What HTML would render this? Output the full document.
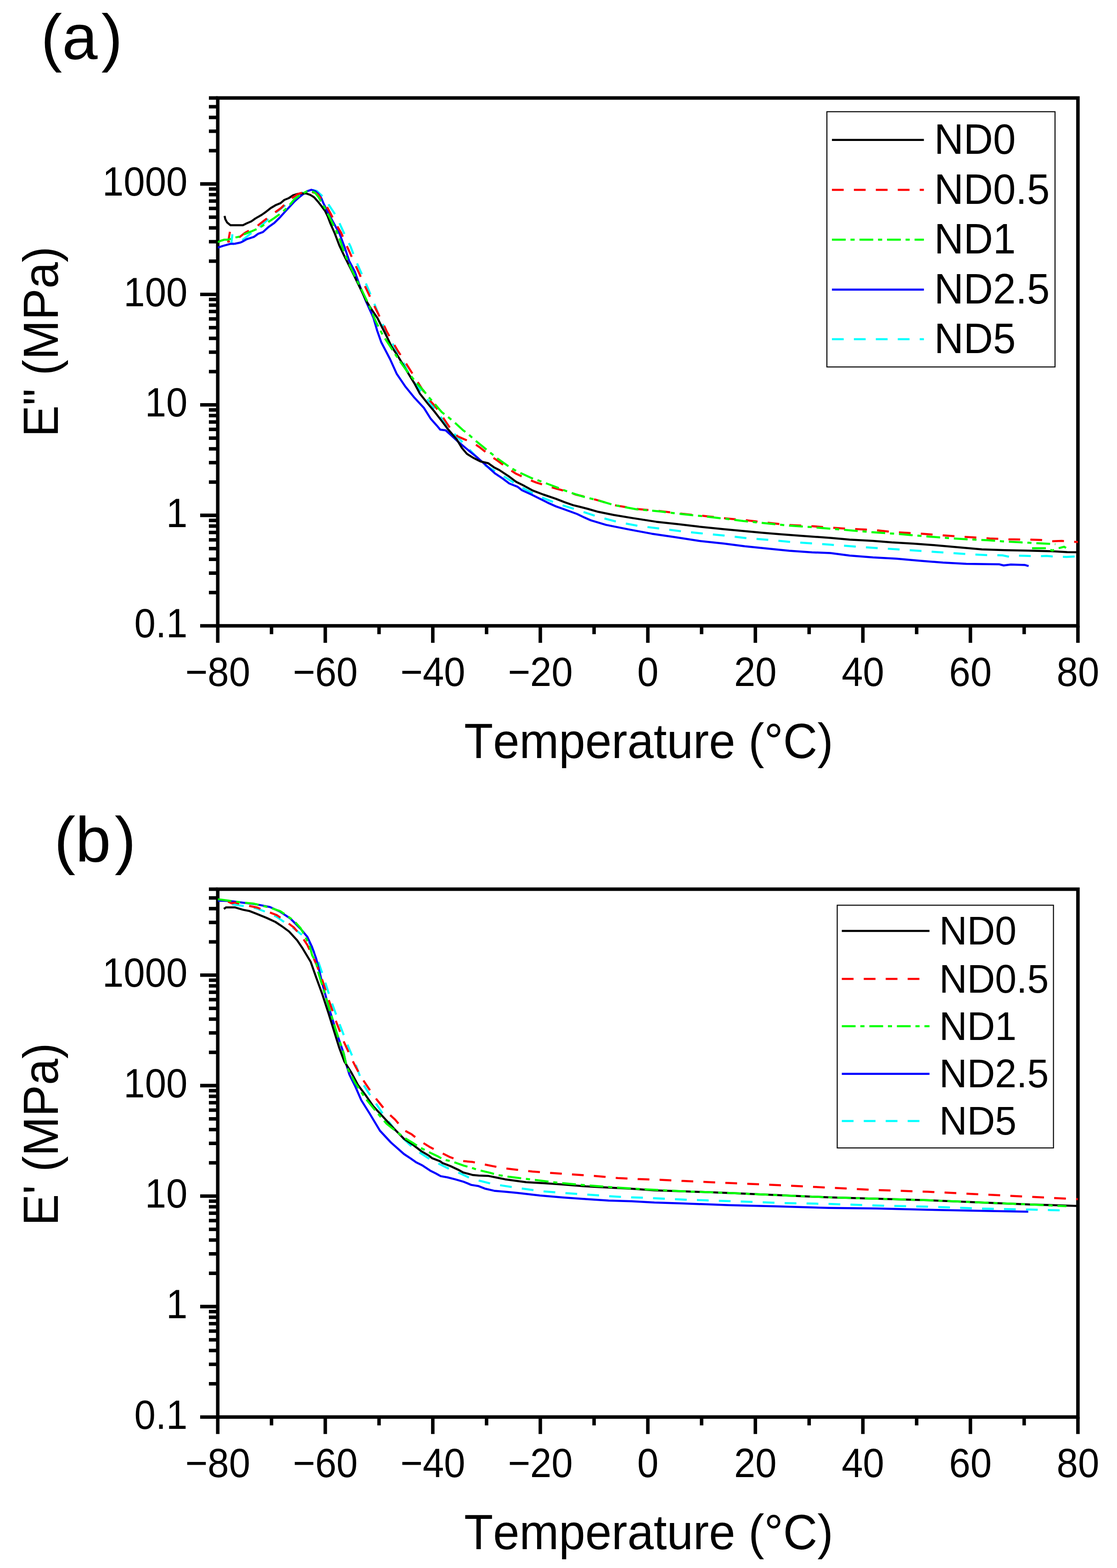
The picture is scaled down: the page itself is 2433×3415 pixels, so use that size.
<!DOCTYPE html>
<html><head><meta charset="utf-8"><title>DMA plots</title>
<style>html,body{margin:0;padding:0;background:#fff;overflow:hidden;width:2433px;height:3415px;} svg{display:block;} text{font-family:"Liberation Sans", Arial, sans-serif;fill:#000;font-kerning:none;}</style>
</head><body>
<svg width="2433" height="3415" viewBox="0 0 2433 3415">
<defs>
<clipPath id="clipa"><rect x="474.3" y="213.37680915769533" width="1873.6000000000001" height="1149.6231908423047"/></clipPath>
<clipPath id="clipb"><rect x="474.3" y="1936.5768091576954" width="1873.6000000000001" height="1149.6231908423047"/></clipPath>
</defs>
<rect width="2433" height="3415" fill="#fff"/>
<rect x="474.30" y="213.38" width="1873.60" height="1149.62" fill="none" stroke="#000" stroke-width="7.6"/>
<line x1="436.00" y1="1363.00" x2="474.30" y2="1363.00" stroke="#000" stroke-width="7.6"/>
<line x1="455.00" y1="1290.57" x2="474.30" y2="1290.57" stroke="#000" stroke-width="7.6"/>
<line x1="455.00" y1="1248.20" x2="474.30" y2="1248.20" stroke="#000" stroke-width="7.6"/>
<line x1="455.00" y1="1218.14" x2="474.30" y2="1218.14" stroke="#000" stroke-width="7.6"/>
<line x1="455.00" y1="1194.83" x2="474.30" y2="1194.83" stroke="#000" stroke-width="7.6"/>
<line x1="455.00" y1="1175.78" x2="474.30" y2="1175.78" stroke="#000" stroke-width="7.6"/>
<line x1="455.00" y1="1159.67" x2="474.30" y2="1159.67" stroke="#000" stroke-width="7.6"/>
<line x1="455.00" y1="1145.72" x2="474.30" y2="1145.72" stroke="#000" stroke-width="7.6"/>
<line x1="455.00" y1="1133.41" x2="474.30" y2="1133.41" stroke="#000" stroke-width="7.6"/>
<line x1="436.00" y1="1122.40" x2="474.30" y2="1122.40" stroke="#000" stroke-width="7.6"/>
<line x1="455.00" y1="1049.97" x2="474.30" y2="1049.97" stroke="#000" stroke-width="7.6"/>
<line x1="455.00" y1="1007.60" x2="474.30" y2="1007.60" stroke="#000" stroke-width="7.6"/>
<line x1="455.00" y1="977.54" x2="474.30" y2="977.54" stroke="#000" stroke-width="7.6"/>
<line x1="455.00" y1="954.23" x2="474.30" y2="954.23" stroke="#000" stroke-width="7.6"/>
<line x1="455.00" y1="935.18" x2="474.30" y2="935.18" stroke="#000" stroke-width="7.6"/>
<line x1="455.00" y1="919.07" x2="474.30" y2="919.07" stroke="#000" stroke-width="7.6"/>
<line x1="455.00" y1="905.12" x2="474.30" y2="905.12" stroke="#000" stroke-width="7.6"/>
<line x1="455.00" y1="892.81" x2="474.30" y2="892.81" stroke="#000" stroke-width="7.6"/>
<line x1="436.00" y1="881.80" x2="474.30" y2="881.80" stroke="#000" stroke-width="7.6"/>
<line x1="455.00" y1="809.37" x2="474.30" y2="809.37" stroke="#000" stroke-width="7.6"/>
<line x1="455.00" y1="767.00" x2="474.30" y2="767.00" stroke="#000" stroke-width="7.6"/>
<line x1="455.00" y1="736.94" x2="474.30" y2="736.94" stroke="#000" stroke-width="7.6"/>
<line x1="455.00" y1="713.63" x2="474.30" y2="713.63" stroke="#000" stroke-width="7.6"/>
<line x1="455.00" y1="694.58" x2="474.30" y2="694.58" stroke="#000" stroke-width="7.6"/>
<line x1="455.00" y1="678.47" x2="474.30" y2="678.47" stroke="#000" stroke-width="7.6"/>
<line x1="455.00" y1="664.52" x2="474.30" y2="664.52" stroke="#000" stroke-width="7.6"/>
<line x1="455.00" y1="652.21" x2="474.30" y2="652.21" stroke="#000" stroke-width="7.6"/>
<line x1="436.00" y1="641.20" x2="474.30" y2="641.20" stroke="#000" stroke-width="7.6"/>
<line x1="455.00" y1="568.77" x2="474.30" y2="568.77" stroke="#000" stroke-width="7.6"/>
<line x1="455.00" y1="526.40" x2="474.30" y2="526.40" stroke="#000" stroke-width="7.6"/>
<line x1="455.00" y1="496.34" x2="474.30" y2="496.34" stroke="#000" stroke-width="7.6"/>
<line x1="455.00" y1="473.03" x2="474.30" y2="473.03" stroke="#000" stroke-width="7.6"/>
<line x1="455.00" y1="453.98" x2="474.30" y2="453.98" stroke="#000" stroke-width="7.6"/>
<line x1="455.00" y1="437.87" x2="474.30" y2="437.87" stroke="#000" stroke-width="7.6"/>
<line x1="455.00" y1="423.92" x2="474.30" y2="423.92" stroke="#000" stroke-width="7.6"/>
<line x1="455.00" y1="411.61" x2="474.30" y2="411.61" stroke="#000" stroke-width="7.6"/>
<line x1="436.00" y1="400.60" x2="474.30" y2="400.60" stroke="#000" stroke-width="7.6"/>
<line x1="455.00" y1="328.17" x2="474.30" y2="328.17" stroke="#000" stroke-width="7.6"/>
<line x1="455.00" y1="285.80" x2="474.30" y2="285.80" stroke="#000" stroke-width="7.6"/>
<line x1="455.00" y1="255.74" x2="474.30" y2="255.74" stroke="#000" stroke-width="7.6"/>
<line x1="455.00" y1="232.43" x2="474.30" y2="232.43" stroke="#000" stroke-width="7.6"/>
<line x1="455.00" y1="213.38" x2="474.30" y2="213.38" stroke="#000" stroke-width="7.6"/>
<line x1="474.30" y1="1363.00" x2="474.30" y2="1400.00" stroke="#000" stroke-width="7.6"/>
<line x1="591.40" y1="1363.00" x2="591.40" y2="1381.20" stroke="#000" stroke-width="7.6"/>
<line x1="708.50" y1="1363.00" x2="708.50" y2="1400.00" stroke="#000" stroke-width="7.6"/>
<line x1="825.60" y1="1363.00" x2="825.60" y2="1381.20" stroke="#000" stroke-width="7.6"/>
<line x1="942.70" y1="1363.00" x2="942.70" y2="1400.00" stroke="#000" stroke-width="7.6"/>
<line x1="1059.80" y1="1363.00" x2="1059.80" y2="1381.20" stroke="#000" stroke-width="7.6"/>
<line x1="1176.90" y1="1363.00" x2="1176.90" y2="1400.00" stroke="#000" stroke-width="7.6"/>
<line x1="1294.00" y1="1363.00" x2="1294.00" y2="1381.20" stroke="#000" stroke-width="7.6"/>
<line x1="1411.10" y1="1363.00" x2="1411.10" y2="1400.00" stroke="#000" stroke-width="7.6"/>
<line x1="1528.20" y1="1363.00" x2="1528.20" y2="1381.20" stroke="#000" stroke-width="7.6"/>
<line x1="1645.30" y1="1363.00" x2="1645.30" y2="1400.00" stroke="#000" stroke-width="7.6"/>
<line x1="1762.40" y1="1363.00" x2="1762.40" y2="1381.20" stroke="#000" stroke-width="7.6"/>
<line x1="1879.50" y1="1363.00" x2="1879.50" y2="1400.00" stroke="#000" stroke-width="7.6"/>
<line x1="1996.60" y1="1363.00" x2="1996.60" y2="1381.20" stroke="#000" stroke-width="7.6"/>
<line x1="2113.70" y1="1363.00" x2="2113.70" y2="1400.00" stroke="#000" stroke-width="7.6"/>
<line x1="2230.80" y1="1363.00" x2="2230.80" y2="1381.20" stroke="#000" stroke-width="7.6"/>
<line x1="2347.90" y1="1363.00" x2="2347.90" y2="1400.00" stroke="#000" stroke-width="7.6"/>
<text transform="translate(408.50,1388.40) scale(1,1.069)" font-size="83.4" text-anchor="end">0.1</text>
<text transform="translate(408.50,1147.80) scale(1,1.069)" font-size="83.4" text-anchor="end">1</text>
<text transform="translate(408.50,907.20) scale(1,1.069)" font-size="83.4" text-anchor="end">10</text>
<text transform="translate(408.50,666.60) scale(1,1.069)" font-size="83.4" text-anchor="end">100</text>
<text transform="translate(408.50,426.00) scale(1,1.069)" font-size="83.4" text-anchor="end">1000</text>
<text transform="translate(474.30,1493.50) scale(1,1.069)" font-size="83.4" text-anchor="middle">−80</text>
<text transform="translate(708.50,1493.50) scale(1,1.069)" font-size="83.4" text-anchor="middle">−60</text>
<text transform="translate(942.70,1493.50) scale(1,1.069)" font-size="83.4" text-anchor="middle">−40</text>
<text transform="translate(1176.90,1493.50) scale(1,1.069)" font-size="83.4" text-anchor="middle">−20</text>
<text transform="translate(1411.10,1493.50) scale(1,1.069)" font-size="83.4" text-anchor="middle">0</text>
<text transform="translate(1645.30,1493.50) scale(1,1.069)" font-size="83.4" text-anchor="middle">20</text>
<text transform="translate(1879.50,1493.50) scale(1,1.069)" font-size="83.4" text-anchor="middle">40</text>
<text transform="translate(2113.70,1493.50) scale(1,1.069)" font-size="83.4" text-anchor="middle">60</text>
<text transform="translate(2347.90,1493.50) scale(1,1.069)" font-size="83.4" text-anchor="middle">80</text>
<text transform="translate(1010.90,1650.80) scale(1,1.04)" font-size="103.2">Temperature (°C)</text>
<text transform="translate(126.00,951.80) rotate(-90) scale(1,1.04)" font-size="103.2">E" (MPa)</text>
<text transform="translate(88.90,129.00)" font-size="139">(a<tspan dx="8.2">)</tspan></text>
<g clip-path="url(#clipa)"><path d="M506.3,510.3 L503.9,529.4 L511.9,533.5 L514.3,528.8 L529.1,522.0 L546.4,508.5 L560.0,498.5 L566.1,494.3 L584.6,476.8 L603.0,461.3 L621.1,447.3 L638.8,433.5 L663.4,416.7 L678.2,413.3 L690.0,416.0 L704.8,429.6 L717.6,448.3 L732.3,470.5 L741.6,490.8 L752.7,514.9 L763.7,537.0 L775.4,568.3 L795.1,612.7 L811.1,650.8 L829.6,697.6 L847.5,736.0 L871.7,776.2 L896.8,826.4 L920.5,856.0 L948.6,892.9 L981.0,936.0 L1012.0,968.0 L1054.0,1012.0 L1089.0,1032.0 L1128.0,1057.0 L1167.0,1078.0 L1214.0,1097.0 L1262.0,1112.0 L1303.3,1125.8 L1346.5,1137.1 L1393.0,1145.8 L1439.6,1151.4 L1486.2,1157.4 L1536.0,1162.4 L1582.6,1167.0 L1629.2,1172.4 L1679.0,1176.3 L1722.3,1180.3 L1772.2,1183.7 L1808.7,1186.3 L1867.7,1190.8 L1918.5,1194.1 L1969.3,1197.5 L2020.1,1200.9 L2070.9,1204.3 L2121.7,1207.7 L2150.0,1208.9 L2183.6,1209.5 L2197.8,1212.5 L2206.9,1210.2 L2231.5,1210.4 L2256.0,1211.5 L2279.3,1210.8 L2300.0,1212.5 L2323.3,1213.0 L2347.9,1211.7" fill="none" stroke="#00ffff" stroke-width="4.5" stroke-linejoin="round" stroke-dasharray="25.6 22.2"/>
<path d="M474.3,539.3 L485.4,535.6 L500.8,531.3 L511.9,530.7 L523.6,528.2 L526.7,527.0 L537.7,520.8 L553.1,515.9 L562.4,509.1 L572.8,505.4 L584.6,494.6 L597.4,485.7 L609.3,473.9 L619.1,463.1 L629.0,452.2 L640.8,439.4 L651.6,429.6 L660.5,422.7 L668.4,416.7 L678.2,413.3 L686.1,415.8 L693.0,421.7 L699.9,431.5 L704.8,443.3 L710.7,455.2 L719.4,472.4 L728.6,489.0 L739.7,509.3 L750.8,538.9 L760.6,568.3 L773.0,591.7 L784.0,623.7 L796.4,654.5 L813.6,692.7 L821.5,720.0 L830.3,745.1 L849.6,782.1 L864.3,814.6 L883.5,842.7 L902.8,866.3 L923.4,888.5 L938.2,912.1 L951.5,926.9 L958.9,935.8 L970.7,937.2 L980.0,945.5 L998.5,962.5 L1020.6,981.0 L1041.0,997.6 L1059.4,1014.2 L1077.9,1030.8 L1094.5,1041.9 L1109.3,1053.0 L1127.8,1060.4 L1137.0,1067.8 L1157.3,1077.0 L1174.0,1085.3 L1192.5,1094.6 L1210.9,1102.9 L1229.4,1109.4 L1257.1,1119.5 L1270.0,1125.8 L1286.6,1133.1 L1319.9,1143.1 L1369.8,1153.1 L1419.7,1162.4 L1469.5,1169.7 L1522.7,1178.0 L1576.0,1183.7 L1622.5,1189.7 L1669.1,1194.6 L1718.9,1199.6 L1768.8,1203.0 L1808.7,1204.6 L1850.8,1210.1 L1901.6,1214.1 L1952.4,1216.8 L2003.2,1221.2 L2054.0,1225.3 L2104.8,1228.0 L2155.6,1228.7 L2175.9,1228.9 L2186.2,1231.5 L2201.7,1229.6 L2232.8,1230.6 L2240.5,1232.8" fill="none" stroke="#0000ff" stroke-width="4.5" stroke-linejoin="round"/>
<path d="M489.1,470.3 L490.9,477.7 L494.6,484.5 L502.0,490.6 L529.1,490.6 L537.7,486.3 L547.6,482.0 L556.2,475.9 L569.9,468.0 L579.7,461.1 L589.6,453.2 L601.4,446.3 L611.2,442.4 L619.1,435.5 L629.0,431.5 L638.8,425.1 L648.7,422.2 L658.5,421.2 L666.4,421.2 L676.3,424.6 L684.1,429.6 L692.0,438.4 L699.9,448.3 L707.8,459.1 L713.7,470.9 L719.6,486.7 L729.3,508.7 L739.1,534.5 L749.0,555.5 L758.8,575.2 L768.7,594.9 L780.6,619.5 L798.8,657.0 L808.7,673.0 L822.2,692.7 L830.8,710.0 L843.2,734.6 L852.5,754.0 L868.8,779.1 L886.5,808.7 L902.8,835.3 L914.6,857.4 L932.3,879.6 L947.1,897.3 L961.9,916.5 L976.6,935.8 L994.8,956.9 L1005.9,975.4 L1016.9,988.4 L1031.7,997.6 L1046.5,1005.0 L1063.1,1008.7 L1076.1,1017.9 L1087.2,1023.5 L1109.3,1038.2 L1124.1,1049.3 L1142.6,1058.6 L1159.2,1067.8 L1183.2,1077.0 L1210.9,1086.3 L1229.4,1093.7 L1247.9,1100.1 L1262.7,1103.8 L1279.3,1108.0 L1303.3,1114.8 L1336.5,1121.5 L1376.4,1128.1 L1429.6,1136.4 L1476.2,1141.4 L1522.7,1147.1 L1576.0,1152.4 L1619.2,1156.4 L1662.4,1160.4 L1702.3,1163.7 L1745.6,1167.0 L1808.7,1171.4 L1850.8,1175.2 L1901.6,1177.9 L1942.2,1181.3 L1989.6,1184.0 L2037.0,1187.4 L2087.8,1192.1 L2138.6,1196.5 L2189.4,1198.2 L2240.2,1199.2 L2291.0,1200.5 L2324.6,1202.4 L2347.9,1202.7" fill="none" stroke="#000000" stroke-width="4.5" stroke-linejoin="round"/>
<path d="M500.8,504.8 L497.1,526.4 L512.0,522.0 L519.3,518.3 L533.4,507.3 L559.3,493.1 L574.8,480.8 L595.5,465.0 L612.2,453.2 L630.9,434.5 L648.7,422.7 L660.0,419.0 L673.3,416.7 L688.1,420.7 L693.0,424.6 L709.8,446.3 L719.6,464.0 L732.3,489.0 L743.4,507.5 L752.7,530.0 L761.0,548.0 L776.7,583.1 L796.4,626.2 L817.3,670.5 L838.2,712.4 L842.2,721.5 L855.5,745.1 L865.8,762.9 L882.1,788.0 L892.4,804.2 L907.2,827.9 L917.5,844.1 L932.3,867.8 L947.1,884.0 L961.9,904.7 L973.7,922.5 L987.0,941.7 L997.3,950.5 L1007.7,955.1 L1031.7,965.3 L1046.5,975.4 L1066.8,992.0 L1083.5,1003.1 L1105.6,1019.8 L1124.1,1031.8 L1148.1,1042.9 L1168.4,1051.2 L1192.5,1058.6 L1214.6,1065.0 L1238.6,1071.5 L1253.4,1077.0 L1270.0,1081.0 L1303.3,1089.9 L1336.5,1099.9 L1386.4,1108.5 L1436.3,1113.0 L1486.2,1119.0 L1536.0,1124.0 L1585.9,1129.5 L1619.2,1132.5 L1669.1,1138.1 L1718.9,1143.5 L1768.8,1146.0 L1808.7,1149.1 L1850.8,1151.8 L1901.6,1154.2 L1952.4,1159.3 L2003.2,1162.0 L2054.0,1166.0 L2104.8,1169.4 L2155.6,1172.8 L2196.6,1174.6 L2243.1,1175.3 L2266.4,1175.9 L2291.0,1178.9 L2312.9,1178.1 L2347.9,1180.5" fill="none" stroke="#ff0000" stroke-width="4.5" stroke-linejoin="round" stroke-dasharray="25.6 22.2"/>
<path d="M474.3,527.6 L480.5,524.5 L488.5,522.0 L496.5,522.0 L507.0,518.3 L522.3,515.3 L531.6,510.3 L547.0,504.2 L564.2,496.8 L579.7,486.7 L597.4,474.9 L611.2,465.0 L627.0,451.2 L640.8,434.5 L656.6,422.7 L668.4,416.7 L678.2,415.8 L686.1,419.7 L694.0,429.6 L701.9,443.3 L709.8,457.1 L719.6,476.8 L732.3,501.9 L741.6,525.9 L750.8,553.5 L768.0,591.7 L785.3,626.2 L802.5,661.9 L818.5,700.1 L834.8,731.8 L849.6,754.0 L868.8,783.5 L883.5,804.2 L905.7,832.3 L922.0,850.0 L932.3,863.3 L945.6,878.1 L961.9,897.3 L975.2,907.7 L988.5,918.5 L1007.7,936.2 L1021.0,946.5 L1033.6,957.9 L1053.9,974.5 L1068.7,986.5 L1083.5,998.5 L1105.6,1014.2 L1120.4,1023.5 L1135.2,1030.8 L1157.3,1041.0 L1175.8,1047.5 L1190.6,1053.0 L1214.6,1062.2 L1231.2,1068.7 L1249.7,1075.2 L1273.7,1082.6 L1303.3,1089.9 L1336.5,1099.9 L1386.4,1109.2 L1436.3,1113.8 L1486.2,1119.8 L1536.0,1124.8 L1585.9,1130.5 L1619.2,1134.8 L1669.1,1139.8 L1718.9,1144.8 L1768.8,1148.1 L1808.7,1151.4 L1850.8,1154.9 L1901.6,1159.3 L1952.4,1162.6 L2003.2,1167.0 L2054.0,1171.1 L2104.8,1174.5 L2150.0,1176.6 L2182.3,1178.9 L2221.1,1181.1 L2240.5,1182.1 L2272.8,1183.7 L2298.7,1185.3 M2248.0,1194.0 L2279.3,1194.0 L2292.2,1199.2 L2305.2,1194.0 L2318.1,1190.8 L2322.0,1193.4" fill="none" stroke="#00ff00" stroke-width="4.5" stroke-linejoin="round" stroke-dasharray="30 10.4 9 10.6"/></g>
<rect x="1801.1" y="243.3" width="496.9000000000001" height="555.9000000000001" fill="#fff" stroke="#000" stroke-width="2.2"/>
<line x1="1812.1" y1="304.80" x2="2012.4" y2="304.80" stroke="#000000" stroke-width="4.5"/>
<text transform="translate(2034.70,334.90) scale(1,1.04)" font-size="88.8">ND0</text>
<line x1="1812.1" y1="413.40" x2="2012.4" y2="413.40" stroke="#ff0000" stroke-width="4.5" stroke-dasharray="25.6 22.2"/>
<text transform="translate(2034.70,443.50) scale(1,1.04)" font-size="88.8">ND0.5</text>
<line x1="1812.1" y1="522.00" x2="2012.4" y2="522.00" stroke="#00ff00" stroke-width="4.5" stroke-dasharray="30 10.4 9 10.6"/>
<text transform="translate(2034.70,552.10) scale(1,1.04)" font-size="88.8">ND1</text>
<line x1="1812.1" y1="630.70" x2="2012.4" y2="630.70" stroke="#0000ff" stroke-width="4.5"/>
<text transform="translate(2034.70,660.80) scale(1,1.04)" font-size="88.8">ND2.5</text>
<line x1="1812.1" y1="738.80" x2="2012.4" y2="738.80" stroke="#00ffff" stroke-width="4.5" stroke-dasharray="25.6 22.2"/>
<text transform="translate(2034.70,768.90) scale(1,1.04)" font-size="88.8">ND5</text>
<rect x="474.30" y="1936.58" width="1873.60" height="1149.62" fill="none" stroke="#000" stroke-width="7.6"/>
<line x1="436.00" y1="3086.20" x2="474.30" y2="3086.20" stroke="#000" stroke-width="7.6"/>
<line x1="455.00" y1="3013.77" x2="474.30" y2="3013.77" stroke="#000" stroke-width="7.6"/>
<line x1="455.00" y1="2971.40" x2="474.30" y2="2971.40" stroke="#000" stroke-width="7.6"/>
<line x1="455.00" y1="2941.34" x2="474.30" y2="2941.34" stroke="#000" stroke-width="7.6"/>
<line x1="455.00" y1="2918.03" x2="474.30" y2="2918.03" stroke="#000" stroke-width="7.6"/>
<line x1="455.00" y1="2898.98" x2="474.30" y2="2898.98" stroke="#000" stroke-width="7.6"/>
<line x1="455.00" y1="2882.87" x2="474.30" y2="2882.87" stroke="#000" stroke-width="7.6"/>
<line x1="455.00" y1="2868.92" x2="474.30" y2="2868.92" stroke="#000" stroke-width="7.6"/>
<line x1="455.00" y1="2856.61" x2="474.30" y2="2856.61" stroke="#000" stroke-width="7.6"/>
<line x1="436.00" y1="2845.60" x2="474.30" y2="2845.60" stroke="#000" stroke-width="7.6"/>
<line x1="455.00" y1="2773.17" x2="474.30" y2="2773.17" stroke="#000" stroke-width="7.6"/>
<line x1="455.00" y1="2730.80" x2="474.30" y2="2730.80" stroke="#000" stroke-width="7.6"/>
<line x1="455.00" y1="2700.74" x2="474.30" y2="2700.74" stroke="#000" stroke-width="7.6"/>
<line x1="455.00" y1="2677.43" x2="474.30" y2="2677.43" stroke="#000" stroke-width="7.6"/>
<line x1="455.00" y1="2658.38" x2="474.30" y2="2658.38" stroke="#000" stroke-width="7.6"/>
<line x1="455.00" y1="2642.27" x2="474.30" y2="2642.27" stroke="#000" stroke-width="7.6"/>
<line x1="455.00" y1="2628.32" x2="474.30" y2="2628.32" stroke="#000" stroke-width="7.6"/>
<line x1="455.00" y1="2616.01" x2="474.30" y2="2616.01" stroke="#000" stroke-width="7.6"/>
<line x1="436.00" y1="2605.00" x2="474.30" y2="2605.00" stroke="#000" stroke-width="7.6"/>
<line x1="455.00" y1="2532.57" x2="474.30" y2="2532.57" stroke="#000" stroke-width="7.6"/>
<line x1="455.00" y1="2490.20" x2="474.30" y2="2490.20" stroke="#000" stroke-width="7.6"/>
<line x1="455.00" y1="2460.14" x2="474.30" y2="2460.14" stroke="#000" stroke-width="7.6"/>
<line x1="455.00" y1="2436.83" x2="474.30" y2="2436.83" stroke="#000" stroke-width="7.6"/>
<line x1="455.00" y1="2417.78" x2="474.30" y2="2417.78" stroke="#000" stroke-width="7.6"/>
<line x1="455.00" y1="2401.67" x2="474.30" y2="2401.67" stroke="#000" stroke-width="7.6"/>
<line x1="455.00" y1="2387.72" x2="474.30" y2="2387.72" stroke="#000" stroke-width="7.6"/>
<line x1="455.00" y1="2375.41" x2="474.30" y2="2375.41" stroke="#000" stroke-width="7.6"/>
<line x1="436.00" y1="2364.40" x2="474.30" y2="2364.40" stroke="#000" stroke-width="7.6"/>
<line x1="455.00" y1="2291.97" x2="474.30" y2="2291.97" stroke="#000" stroke-width="7.6"/>
<line x1="455.00" y1="2249.60" x2="474.30" y2="2249.60" stroke="#000" stroke-width="7.6"/>
<line x1="455.00" y1="2219.54" x2="474.30" y2="2219.54" stroke="#000" stroke-width="7.6"/>
<line x1="455.00" y1="2196.23" x2="474.30" y2="2196.23" stroke="#000" stroke-width="7.6"/>
<line x1="455.00" y1="2177.18" x2="474.30" y2="2177.18" stroke="#000" stroke-width="7.6"/>
<line x1="455.00" y1="2161.07" x2="474.30" y2="2161.07" stroke="#000" stroke-width="7.6"/>
<line x1="455.00" y1="2147.12" x2="474.30" y2="2147.12" stroke="#000" stroke-width="7.6"/>
<line x1="455.00" y1="2134.81" x2="474.30" y2="2134.81" stroke="#000" stroke-width="7.6"/>
<line x1="436.00" y1="2123.80" x2="474.30" y2="2123.80" stroke="#000" stroke-width="7.6"/>
<line x1="455.00" y1="2051.37" x2="474.30" y2="2051.37" stroke="#000" stroke-width="7.6"/>
<line x1="455.00" y1="2009.00" x2="474.30" y2="2009.00" stroke="#000" stroke-width="7.6"/>
<line x1="455.00" y1="1978.94" x2="474.30" y2="1978.94" stroke="#000" stroke-width="7.6"/>
<line x1="455.00" y1="1955.63" x2="474.30" y2="1955.63" stroke="#000" stroke-width="7.6"/>
<line x1="455.00" y1="1936.58" x2="474.30" y2="1936.58" stroke="#000" stroke-width="7.6"/>
<line x1="474.30" y1="3086.20" x2="474.30" y2="3123.20" stroke="#000" stroke-width="7.6"/>
<line x1="591.40" y1="3086.20" x2="591.40" y2="3104.40" stroke="#000" stroke-width="7.6"/>
<line x1="708.50" y1="3086.20" x2="708.50" y2="3123.20" stroke="#000" stroke-width="7.6"/>
<line x1="825.60" y1="3086.20" x2="825.60" y2="3104.40" stroke="#000" stroke-width="7.6"/>
<line x1="942.70" y1="3086.20" x2="942.70" y2="3123.20" stroke="#000" stroke-width="7.6"/>
<line x1="1059.80" y1="3086.20" x2="1059.80" y2="3104.40" stroke="#000" stroke-width="7.6"/>
<line x1="1176.90" y1="3086.20" x2="1176.90" y2="3123.20" stroke="#000" stroke-width="7.6"/>
<line x1="1294.00" y1="3086.20" x2="1294.00" y2="3104.40" stroke="#000" stroke-width="7.6"/>
<line x1="1411.10" y1="3086.20" x2="1411.10" y2="3123.20" stroke="#000" stroke-width="7.6"/>
<line x1="1528.20" y1="3086.20" x2="1528.20" y2="3104.40" stroke="#000" stroke-width="7.6"/>
<line x1="1645.30" y1="3086.20" x2="1645.30" y2="3123.20" stroke="#000" stroke-width="7.6"/>
<line x1="1762.40" y1="3086.20" x2="1762.40" y2="3104.40" stroke="#000" stroke-width="7.6"/>
<line x1="1879.50" y1="3086.20" x2="1879.50" y2="3123.20" stroke="#000" stroke-width="7.6"/>
<line x1="1996.60" y1="3086.20" x2="1996.60" y2="3104.40" stroke="#000" stroke-width="7.6"/>
<line x1="2113.70" y1="3086.20" x2="2113.70" y2="3123.20" stroke="#000" stroke-width="7.6"/>
<line x1="2230.80" y1="3086.20" x2="2230.80" y2="3104.40" stroke="#000" stroke-width="7.6"/>
<line x1="2347.90" y1="3086.20" x2="2347.90" y2="3123.20" stroke="#000" stroke-width="7.6"/>
<text transform="translate(408.50,3111.60) scale(1,1.069)" font-size="83.4" text-anchor="end">0.1</text>
<text transform="translate(408.50,2871.00) scale(1,1.069)" font-size="83.4" text-anchor="end">1</text>
<text transform="translate(408.50,2630.40) scale(1,1.069)" font-size="83.4" text-anchor="end">10</text>
<text transform="translate(408.50,2389.80) scale(1,1.069)" font-size="83.4" text-anchor="end">100</text>
<text transform="translate(408.50,2149.20) scale(1,1.069)" font-size="83.4" text-anchor="end">1000</text>
<text transform="translate(474.30,3216.70) scale(1,1.069)" font-size="83.4" text-anchor="middle">−80</text>
<text transform="translate(708.50,3216.70) scale(1,1.069)" font-size="83.4" text-anchor="middle">−60</text>
<text transform="translate(942.70,3216.70) scale(1,1.069)" font-size="83.4" text-anchor="middle">−40</text>
<text transform="translate(1176.90,3216.70) scale(1,1.069)" font-size="83.4" text-anchor="middle">−20</text>
<text transform="translate(1411.10,3216.70) scale(1,1.069)" font-size="83.4" text-anchor="middle">0</text>
<text transform="translate(1645.30,3216.70) scale(1,1.069)" font-size="83.4" text-anchor="middle">20</text>
<text transform="translate(1879.50,3216.70) scale(1,1.069)" font-size="83.4" text-anchor="middle">40</text>
<text transform="translate(2113.70,3216.70) scale(1,1.069)" font-size="83.4" text-anchor="middle">60</text>
<text transform="translate(2347.90,3216.70) scale(1,1.069)" font-size="83.4" text-anchor="middle">80</text>
<text transform="translate(1010.90,3374.00) scale(1,1.04)" font-size="103.2">Temperature (°C)</text>
<text transform="translate(126.00,2669.50) rotate(-90) scale(1,1.04)" font-size="103.2">E' (MPa)</text>
<text transform="translate(117.90,1876.70)" font-size="139">(b<tspan dx="8.2">)</tspan></text>
<g clip-path="url(#clipb)"><path d="M505.5,1969.6 L536.5,1974.0 L558.7,1978.4 L582.3,1987.3 L601.5,1996.2 L622.0,2010.0 L640.0,2022.0 L657.7,2036.1 L669.5,2046.4 L685.8,2076.0 L694.6,2098.1 L705.7,2130.8 L720.5,2177.6 L736.5,2221.9 L753.7,2267.5 L772.2,2311.8 L790.0,2360.0 L807.3,2386.8 L820.2,2405.3 L835.0,2427.5 L864.5,2466.3 L897.6,2497.9 L913.9,2510.1 L936.9,2525.0 L957.2,2535.2 L980.2,2546.7 L1000.6,2554.8 L1022.2,2565.0 L1045.3,2571.8 L1069.7,2577.9 L1092.7,2581.9 L1126.3,2587.1 L1176.2,2594.1 L1226.0,2598.1 L1275.9,2601.4 L1319.2,2604.7 L1365.7,2607.4 L1412.3,2609.0 L1458.8,2611.4 L1498.7,2613.0 L1588.4,2615.9 L1696.7,2619.9 L1805.1,2622.1 L1923.9,2625.9 L2020.8,2627.9 L2131.7,2632.0 L2242.5,2634.3 L2328.0,2636.5" fill="none" stroke="#00ffff" stroke-width="4.5" stroke-linejoin="round" stroke-dasharray="25.6 22.2"/>
<path d="M474.4,1961.4 L499.6,1962.2 L529.1,1965.9 L558.7,1969.6 L588.2,1975.5 L610.4,1985.8 L632.6,2000.6 L654.7,2022.8 L669.5,2040.5 L679.8,2062.7 L688.7,2087.8 L696.6,2118.8 L702.0,2141.9 L716.8,2196.1 L734.0,2251.5 L748.8,2294.6 L753.7,2316.6 L761.1,2340.6 L774.0,2366.5 L786.9,2396.1 L805.4,2425.6 L827.6,2462.6 L851.6,2488.4 L880.0,2513.5 L893.5,2522.3 L907.1,2531.8 L920.6,2538.6 L936.9,2549.4 L950.4,2556.2 L959.9,2561.6 L974.8,2564.3 L991.1,2568.4 L1010.0,2573.8 L1026.3,2580.6 L1042.6,2583.3 L1056.1,2588.7 L1076.4,2593.4 L1100.0,2595.5 L1126.3,2598.1 L1176.2,2603.7 L1226.0,2608.0 L1275.9,2611.4 L1325.8,2614.7 L1375.7,2616.3 L1425.6,2619.0 L1480.0,2620.7 L1588.4,2624.8 L1696.7,2627.5 L1805.1,2630.8 L1910.0,2632.0 L2020.8,2634.8 L2131.7,2637.0 L2239.7,2639.0" fill="none" stroke="#0000ff" stroke-width="4.5" stroke-linejoin="round"/>
<path d="M487.7,1979.6 L492.2,1976.2 L511.4,1976.2 L529.1,1981.4 L543.9,1984.3 L558.7,1990.2 L580.8,1999.1 L600.0,2008.0 L613.3,2016.8 L629.6,2028.7 L647.3,2047.9 L659.2,2065.6 L676.9,2095.2 L688.5,2128.3 L702.0,2165.3 L715.6,2207.1 L727.9,2246.6 L739.0,2282.3 L750.0,2311.8 L764.8,2335.1 L779.6,2362.8 L796.2,2385.0 L812.8,2409.0 L835.0,2433.0 L857.1,2457.0 L880.0,2480.3 L900.3,2493.9 L917.9,2507.4 L934.2,2516.9 L941.0,2522.3 L958.6,2529.1 L964.0,2533.2 L981.6,2539.9 L999.2,2548.1 L1008.7,2553.5 L1029.0,2558.9 L1042.6,2560.2 L1062.9,2560.9 L1083.2,2565.0 L1100.0,2568.4 L1146.2,2574.8 L1186.1,2577.1 L1226.0,2579.8 L1275.9,2583.8 L1325.8,2586.4 L1375.7,2589.1 L1425.6,2592.4 L1492.1,2594.7 L1588.4,2598.2 L1696.7,2603.1 L1805.1,2607.7 L1910.0,2610.7 L2020.8,2614.0 L2131.7,2618.7 L2242.5,2623.2 L2347.9,2626.5" fill="none" stroke="#000000" stroke-width="4.5" stroke-linejoin="round"/>
<path d="M496.6,1963.6 L504.0,1967.3 L511.4,1965.9 L536.5,1971.8 L558.7,1976.2 L582.3,1985.1 L603.0,1993.2 L622.2,2006.5 L639.9,2019.8 L657.7,2040.5 L669.5,2058.2 L681.3,2083.3 L690.2,2102.6 L702.0,2134.5 L716.8,2180.0 L732.8,2226.8 L750.0,2271.2 L764.8,2303.7 L774.0,2322.2 L786.9,2346.2 L798.0,2362.8 L812.8,2385.0 L827.6,2403.5 L842.4,2421.9 L860.8,2438.6 L880.0,2461.4 L896.3,2470.2 L915.2,2485.1 L936.9,2498.6 L958.6,2509.4 L978.9,2519.6 L1003.3,2528.4 L1027.7,2530.4 L1050.7,2535.2 L1073.7,2539.9 L1099.5,2544.7 L1159.5,2551.5 L1202.8,2554.8 L1249.3,2558.1 L1299.2,2561.5 L1345.8,2565.8 L1392.3,2568.1 L1442.2,2569.8 L1488.8,2572.1 L1588.4,2576.6 L1696.7,2581.2 L1805.1,2586.6 L1910.0,2591.9 L2020.8,2595.5 L2131.7,2601.0 L2242.5,2606.5 L2347.8,2611.8" fill="none" stroke="#ff0000" stroke-width="4.5" stroke-linejoin="round" stroke-dasharray="25.6 22.2"/>
<path d="M474.4,1958.5 L492.2,1960.7 L529.1,1965.9 L552.8,1968.1 L588.2,1976.9 L610.4,1984.3 L625.2,1994.7 L639.9,2005.0 L654.7,2021.3 L665.1,2040.5 L673.9,2058.2 L679.8,2080.4 L688.7,2096.6 L693.1,2117.3 L700.0,2140.0 L716.0,2192.0 L733.0,2248.0 L748.0,2292.0 L755.5,2324.0 L774.0,2359.1 L796.2,2392.4 L820.2,2421.9 L842.4,2447.8 L868.2,2468.1 L880.0,2477.6 L900.3,2489.8 L913.9,2498.6 L928.8,2506.7 L953.2,2518.2 L966.7,2525.7 L983.0,2529.1 L1010.0,2538.6 L1024.9,2542.6 L1041.2,2548.1 L1066.9,2554.1 L1083.2,2558.9 L1109.7,2563.1 L1159.5,2569.1 L1219.4,2576.4 L1275.9,2581.4 L1342.4,2586.4 L1409.0,2590.4 L1492.1,2594.7 L1588.4,2598.2 L1696.7,2603.1 L1805.1,2607.7 L1910.0,2610.7 L2020.8,2614.0 L2131.7,2618.7 L2242.5,2623.2 L2322.9,2627.1" fill="none" stroke="#00ff00" stroke-width="4.5" stroke-linejoin="round" stroke-dasharray="30 10.4 9 10.6"/></g>
<rect x="1823.6" y="1971.5" width="471.0" height="528.5999999999999" fill="#fff" stroke="#000" stroke-width="2.2"/>
<line x1="1833.6" y1="2027.60" x2="2024.6" y2="2027.60" stroke="#000000" stroke-width="4.5"/>
<text transform="translate(2045.70,2057.20) scale(1,1.04)" font-size="84.2">ND0</text>
<line x1="1833.6" y1="2131.90" x2="2024.6" y2="2131.90" stroke="#ff0000" stroke-width="4.5" stroke-dasharray="25.6 22.2"/>
<text transform="translate(2045.70,2161.50) scale(1,1.04)" font-size="84.2">ND0.5</text>
<line x1="1833.6" y1="2234.90" x2="2024.6" y2="2234.90" stroke="#00ff00" stroke-width="4.5" stroke-dasharray="30 10.4 9 10.6"/>
<text transform="translate(2045.70,2264.50) scale(1,1.04)" font-size="84.2">ND1</text>
<line x1="1833.6" y1="2338.70" x2="2024.6" y2="2338.70" stroke="#0000ff" stroke-width="4.5"/>
<text transform="translate(2045.70,2368.30) scale(1,1.04)" font-size="84.2">ND2.5</text>
<line x1="1833.6" y1="2441.50" x2="2024.6" y2="2441.50" stroke="#00ffff" stroke-width="4.5" stroke-dasharray="25.6 22.2"/>
<text transform="translate(2045.70,2471.10) scale(1,1.04)" font-size="84.2">ND5</text>
</svg>
</body></html>
